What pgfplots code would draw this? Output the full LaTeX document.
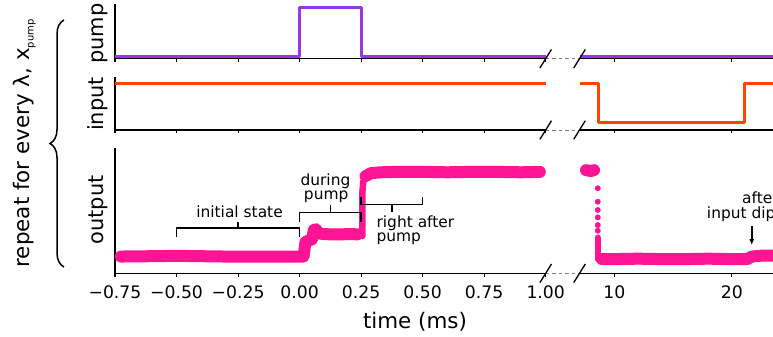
\documentclass[border=0pt]{standalone}
\usepackage{fontspec}
\setmainfont{DejaVu Sans}
\usepackage{pgfplots}
\pgfplotsset{compat=1.18}
\usetikzlibrary{decorations.pathreplacing,arrows.meta}

\definecolor{pumpc}{RGB}{148,56,232}
\definecolor{inputc}{RGB}{255,69,0}
\definecolor{outc}{RGB}{255,20,147}

\newcommand{\tickfont}{\fontsize{17.3}{20}\selectfont}
\newcommand{\annfont}{\fontsize{15.5}{15}\selectfont}
\newcommand{\labfont}{\fontsize{21}{24}\selectfont}

\pgfplotsset{
  panel/.style={
    scale only axis, clip=false,
    axis x line*=bottom,
    ytick=\empty,
    axis line style={line width=1.1bp, black},
    tick style={line width=1.1bp, black},
    major tick length=3.5bp, tick align=outside,
    xticklabel style={font=\tickfont, inner sep=0pt, anchor=north, yshift=-9bp},
  },
  leftpanel/.style={panel, axis y line*=left,
    xmin=-0.75, xmax=1.0, width=430.7bp,
    xtick={-0.75,-0.5,-0.25,0,0.25,0.5,0.75,1.0}},
  rightpanel/.style={panel, axis y line=none,
    xmin=7.07, xmax=26, width=222.4bp, xtick={10,20}},
  pumprow/.style={ymin=-0.056, ymax=1.083, height=54.7bp},
  inputrow/.style={ymin=-0.21, ymax=1.184, height=53bp},
  outrow/.style={ymin=-0.196, ymax=1.269, height=125.3bp},
  band/.style={outc, line width=12bp, line cap=round, line join=round},
  rise/.style={outc, line width=6.5bp, line cap=round, line join=round},
}

\begin{document}
\begin{tikzpicture}[x=1bp, y=1bp]

% ---------------- pump ----------------
\begin{axis}[leftpanel, pumprow, at={(115bp,277.3bp)}, anchor=south west, xticklabels={}]
  \addplot[pumpc, line width=3bp, line join=round] coordinates
    {(-0.75,0) (0,0) (0,1) (0.25,1) (0.25,0) (1.0,0)};
\end{axis}
\begin{axis}[rightpanel, pumprow, at={(580bp,277.3bp)}, anchor=south west, xticklabels={}]
  \addplot[pumpc, line width=3bp] coordinates {(7.07,0) (26,0)};
\end{axis}

% ---------------- input ----------------
\begin{axis}[leftpanel, inputrow, at={(115bp,206bp)}, anchor=south west, xticklabels={}]
  \addplot[inputc, line width=3bp] coordinates {(-0.75,1) (1.0,1)};
\end{axis}
\begin{axis}[rightpanel, inputrow, at={(580bp,206bp)}, anchor=south west, xticklabels={}]
  \addplot[inputc, line width=3bp, line join=round] coordinates
    {(7.07,1) (8.63,1) (8.63,0) (21.1,0) (21.1,1) (26,1)};
\end{axis}

% ---------------- output ----------------
\begin{axis}[leftpanel, outrow, at={(115bp,62.7bp)}, anchor=south west,
    xticklabels={−0.75,−0.50,−0.25,0.00,0.25,0.50,0.75,1.00}]
  % initial state and during pump
  \addplot[band] coordinates {
    (-0.726,0) (-0.6,0.004) (-0.5,0.008) (-0.4,0.004) (-0.3,0) (-0.2,-0.002)
    (-0.1,0) (0,0) (0.016,0) (0.024,0.17) (0.04,0.19) (0.05,0.2) (0.058,0.31)
    (0.066,0.32) (0.078,0.27) (0.1,0.262) (0.15,0.258) (0.2,0.262) (0.236,0.26)};
  % switch at the end of the pump
  \addplot[rise] coordinates {(0.255,0.24) (0.255,0.75) (0.259,0.88)};
  % right after pump
  \addplot[band] coordinates {
    (0.268,0.94) (0.29,0.975) (0.33,0.985) (0.4,0.99) (0.5,0.99) (0.6,0.985)
    (0.7,0.99) (0.8,0.99) (0.9,0.985) (0.976,0.99)};

  % brackets
  \draw[line width=1.5bp] (axis cs:-0.5,0.228) -- (axis cs:-0.5,0.333) -- (axis cs:0,0.333) -- (axis cs:0,0.228);
  \draw[line width=1.5bp] (axis cs:-0.25,0.333) -- (axis cs:-0.25,0.404);
  \draw[line width=1.5bp] (axis cs:0,0.409) -- (axis cs:0,0.512) -- (axis cs:0.25,0.512) -- (axis cs:0.25,0.409);
  \draw[line width=1.5bp] (axis cs:0.125,0.512) -- (axis cs:0.125,0.602);
  \draw[line width=1.5bp] (axis cs:0.25,0.70) -- (axis cs:0.25,0.611) -- (axis cs:0.5,0.611) -- (axis cs:0.5,0.70);
  \draw[line width=1.5bp] (axis cs:0.375,0.611) -- (axis cs:0.375,0.524);

  \node[font=\annfont, inner sep=0pt, anchor=base] at (axis cs:-0.244,0.458) {initial state};
  \node[font=\annfont, inner sep=0pt, anchor=base] at (axis cs:0.105,0.836) {during};
  \node[font=\annfont, inner sep=0pt, anchor=base] at (axis cs:0.108,0.667) {pump};
  \node[font=\annfont, inner sep=0pt, anchor=base west] at (axis cs:0.312,0.345) {right after};
  \node[font=\annfont, inner sep=0pt, anchor=base west] at (axis cs:0.312,0.175) {pump};
\end{axis}
\begin{axis}[rightpanel, outrow, at={(580bp,62.7bp)}, anchor=south west,
    xticklabels={10,20}]
  \addplot[band] coordinates {(7.58,1.01) (8.0,1.0) (8.26,1.01)};
  \addplot[only marks, mark=*, mark size=2.7bp, outc] coordinates {
    (8.58,0.798) (8.58,0.641) (8.58,0.544) (8.58,0.458) (8.58,0.368) (8.58,0.302)};
  \addplot[rise] coordinates {(8.58,0.22) (8.58,-0.03)};
  \addplot[band] coordinates {
    (8.95,-0.03) (10,-0.03) (12,-0.025) (14,-0.03) (16,-0.03) (18,-0.025)
    (20,-0.03) (21.3,-0.03) (21.7,0.0) (22.5,0.01) (24,0.01) (26,0.01)};

  \draw[line width=1.5bp, -{Latex[length=6bp, width=5bp]}] (axis cs:21.69,0.357) -- (axis cs:21.69,0.134);
  \node[font=\annfont, inner sep=0pt, anchor=base west] at (axis cs:20.86,0.622) {after};
  \node[font=\annfont, inner sep=0pt, anchor=base west] at (axis cs:17.86,0.447) {input dip};
\end{axis}

% axis breaks
\foreach \yb in {277.3,206,62.7} {
  \draw[gray, line width=1bp, dash pattern=on 3.5bp off 3bp] (545.7,\yb) -- (579.5,\yb);
  \draw[line width=1.3bp] (539.9,\yb-9.3) -- (551.5,\yb+9.3);
  \draw[line width=1.3bp] (573.7,\yb-9.3) -- (585.3,\yb+9.3);
}

% row labels
\node[font=\labfont, rotate=90, anchor=base, inner sep=0pt] at (103.5,302.5) {pump};
\node[font=\labfont, rotate=90, anchor=base, inner sep=0pt] at (103.5,232) {input};
\node[font=\labfont, rotate=90, anchor=base, inner sep=0pt] at (103.5,126) {output};

% common x label
\node[font=\fontsize{21.5}{24}\selectfont, anchor=base, inner sep=0pt] at (415,8) {time (ms)};

% brace grouping the three rows
\draw[line width=1.5bp, decorate, decoration={brace, amplitude=14bp}] (64,69) -- (64,316);
\node[font=\fontsize{21.5}{24}\selectfont, rotate=90, anchor=base, inner sep=0pt] at (29.5,192.5)
  {repeat for every λ, x\raisebox{-4bp}{\fontsize{10}{10}\selectfont pump}};

\pgfresetboundingbox
\path[use as bounding box] (0,0) rectangle (773,336);
\end{tikzpicture}
\end{document}
